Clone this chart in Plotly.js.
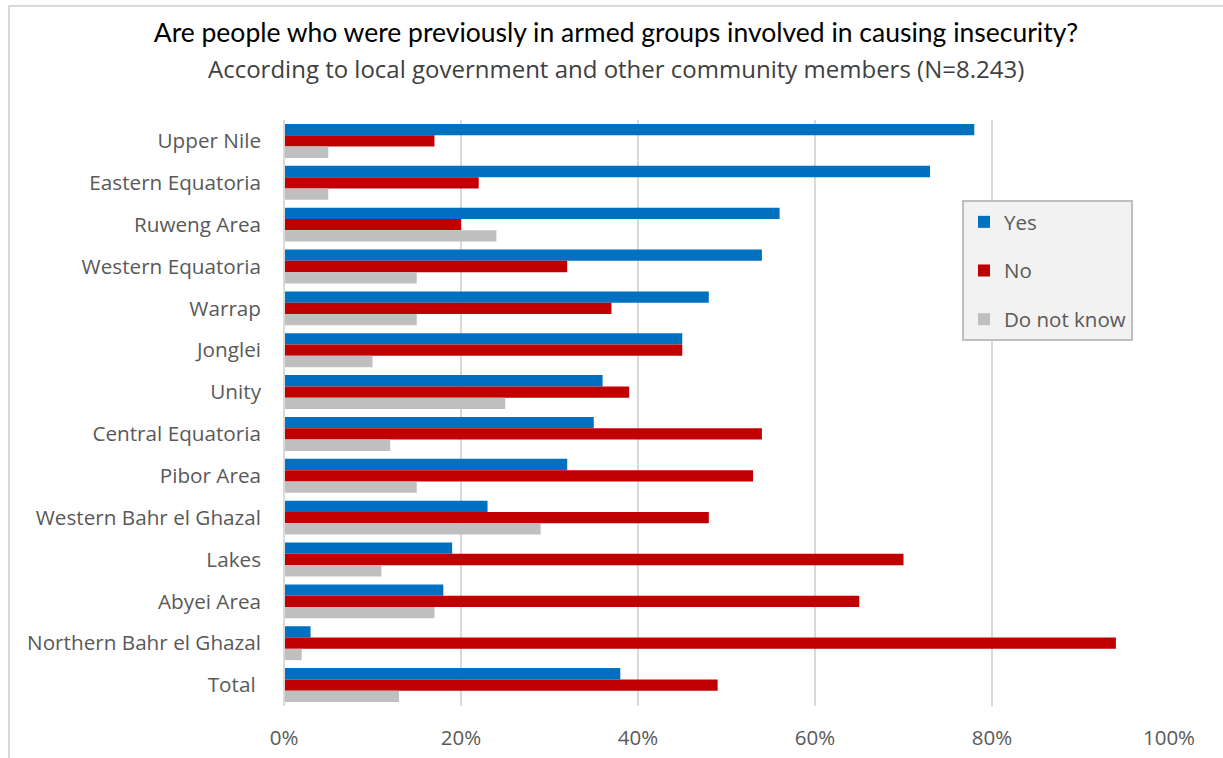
<!DOCTYPE html>
<html>
<head>
<meta charset="utf-8">
<script src="https://cdn.plot.ly/plotly-3.0.1.min.js"></script>
<style>
  html, body { margin: 0; padding: 0; background: #ffffff; }
  #chart { width: 1223px; height: 758px; }
</style>
</head>
<body>
<div id="chart"></div>
<script>
const categories = [
  "Upper Nile", "Eastern Equatoria", "Ruweng Area", "Western Equatoria", "Warrap",
  "Jonglei", "Unity", "Central Equatoria", "Pibor Area", "Western Bahr el Ghazal",
  "Lakes", "Abyei Area", "Northern Bahr el Ghazal", "Total\u00a0"
];
const yesValues = [78, 73, 56, 54, 48, 45, 36, 35, 32, 23, 19, 18, 3, 38];
const noValues = [17, 22, 20, 32, 37, 45, 39, 54, 53, 48, 70, 65, 94, 49];
const dkValues = [5, 5, 24, 15, 15, 10, 25, 12, 15, 29, 11, 17, 2, 13];
const seriesNames = ["Yes", "No", "Do not know"];
const xTickVals = [0, 20, 40, 60, 80, 100];
const xTickText = ["0%", "20%", "40%", "60%", "80%", "100%"];

const colors = ["#0070C0", "#C00000", "#BFBFBF"];
const allValues = [yesValues, noValues, dkValues];

const traces = allValues.map((vals, i) => ({
  type: "bar",
  orientation: "h",
  name: seriesNames[i],
  legendgroup: "g" + i,
  x: vals,
  y: categories,
  marker: { color: colors[i], line: { width: 0 } },
  hoverinfo: "x+y+name"
}));

const L = 284, R = 1169, T = 120, B = 706;
const PW = R - L, PH = B - T;
const px = v => (v - L) / PW;
const py = v => (B - v) / PH;

const layout = {
  width: 1223,
  height: 758,
  paper_bgcolor: "#ffffff",
  plot_bgcolor: "#ffffff",
  margin: { l: L, r: 1223 - R, t: T, b: 758 - B, pad: 0 },
  barmode: "group",
  bargap: 0.19,
  bargroupgap: 0,
  showlegend: true,
  title: {
    text: "Are people who were previously in armed groups involved in causing insecurity?",
    font: { family: "Lato, 'Liberation Sans Narrow', sans-serif", size: 26.5, color: "#000000" },
    x: px(616), xref: "paper", xanchor: "center",
    y: 1 - 33 / 758, yref: "container", yanchor: "middle"
  },
  annotations: [{
    text: "According to local government and other community members (N=8.243)",
    xref: "paper", yref: "paper",
    x: px(616), y: py(69),
    xanchor: "center", yanchor: "middle",
    showarrow: false,
    font: { family: "'Open Sans', sans-serif", size: 24, color: "#404040" }
  }],
  xaxis: {
    range: [0, 100],
    tickvals: xTickVals,
    ticktext: xTickText,
    showgrid: true,
    gridcolor: "#D9D9D9",
    gridwidth: 2,
    zeroline: false,
    showline: false,
    ticks: "",
    ticklabelstandoff: 17,
    tickfont: { family: "'Open Sans', sans-serif", size: 20.5, color: "#595959" },
    fixedrange: true
  },
  yaxis: {
    type: "category",
    autorange: "reversed",
    showgrid: false,
    zeroline: false,
    showline: false,
    ticks: "",
    ticklabelstandoff: 22,
    tickfont: { family: "'Open Sans', sans-serif", size: 20.7, color: "#595959" },
    fixedrange: true
  },
  legend: {
    x: px(962), y: py(200),
    xanchor: "left", yanchor: "top",
    bgcolor: "#F2F2F2",
    bordercolor: "#BFBFBF",
    borderwidth: 2,
    traceorder: "grouped",
    tracegroupgap: 19,
    itemwidth: 30,
    font: { family: "'Open Sans', sans-serif", size: 20.5, color: "#595959" }
  },
  shapes: [
    {
      type: "line", xref: "paper", yref: "paper",
      x0: 0, x1: 0, y0: 0, y1: 1,
      line: { color: "#D9D9D9", width: 2 }
    },
    {
      type: "rect", xref: "paper", yref: "paper",
      x0: px(9), x1: px(1240), y0: py(6), y1: py(770),
      line: { color: "#D9D9D9", width: 2 },
      fillcolor: "rgba(0,0,0,0)"
    }
  ]
};

Plotly.newPlot("chart", traces, layout, { displayModeBar: false, staticPlot: true });
</script>
</body>
</html>
